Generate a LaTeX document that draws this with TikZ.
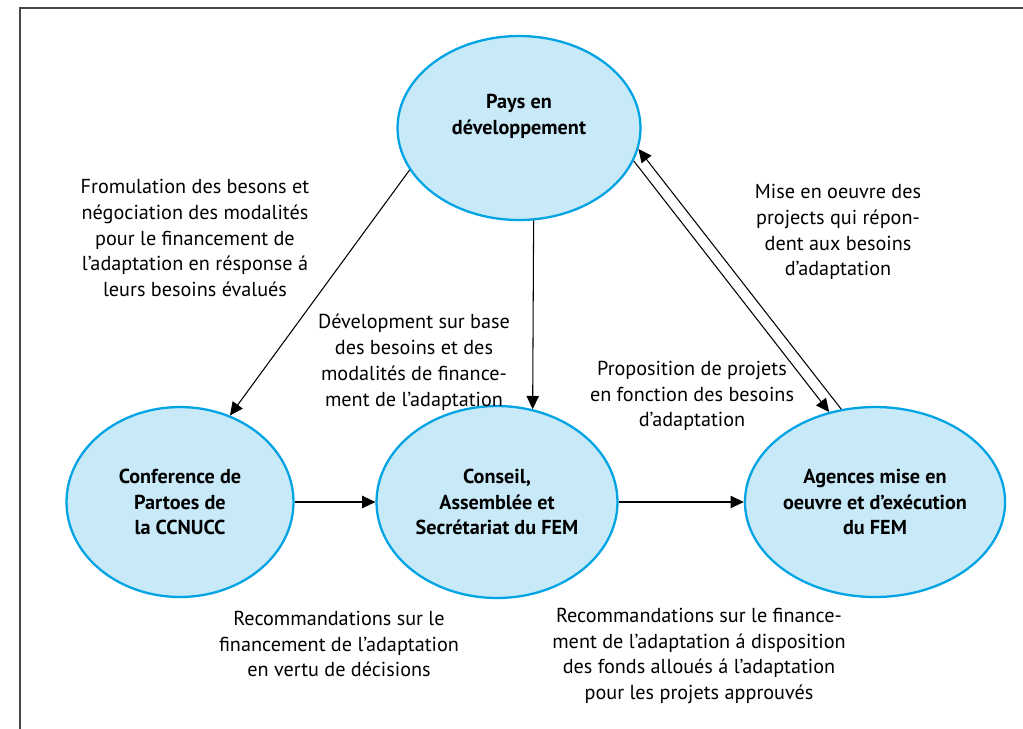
\documentclass[tikz,border=0pt]{standalone}
\usepackage{fontspec}
\setmainfont{PT Sans}
\usetikzlibrary{shapes.geometric,arrows.meta}
\definecolor{bubblefill}{RGB}{199,233,248}
\definecolor{bubbleline}{RGB}{0,163,228}
\definecolor{framegray}{RGB}{70,70,70}
\begin{document}
\begin{tikzpicture}
    [
    x=0.02cm,y=-0.02cm,
    bubble/.style={ellipse,draw=bubbleline,fill=bubblefill,line width=1.3pt,inner sep=0pt},
    bubbletext/.style={align=center,inner sep=0pt,font=\bfseries\fontsize{11.5}{14.7}\selectfont},
    note/.style={align=center,inner sep=0pt,font=\fontsize{11.5}{14.7}\selectfont},
    link/.style={line width=0.6pt,-{Triangle[length=7.5pt,width=7pt]}}
    ]
    \useasboundingbox (0,0) rectangle (1023,728);
    \clip (0,0) rectangle (1023,728);
    \draw [framegray,line width=1.1pt] (20,8) rectangle (1060,760);
    % the four bodies
    \node (pays) at (519,128) [bubble,minimum width=4.86cm,minimum height=3.68cm,
      label={[bubbletext,yshift=0.24cm]center:Pays en\\développement}] {};
    \node (cop) at (180,502) [bubble,bubbletext,minimum width=4.54cm,minimum height=3.8cm]
      {Conference de\\Partoes de\\la CCNUCC};
    \node (fem) at (497,502) [bubble,bubbletext,minimum width=4.82cm,minimum height=3.84cm]
      {Conseil,\\Assemblée et\\Secrétariat du FEM};
    \node (agences) at (875,502) [bubble,bubbletext,minimum width=4.86cm,minimum height=3.8cm]
      {Agences mise en\\oeuvre et d’exécution\\du FEM};
    % flows
    \draw [link] (pays.201) to (cop.60);
    \draw [link] (pays.-81) to (fem.69);
    \draw [link] (cop) to (fem);
    \draw [link] (fem) to (agences);
    \draw [link] (pays.-16) to (agences.117);
    \draw [link] (agences.110) to (pays.-10);
    % labels
    \node (besoins) at (195,238) [note]
      {Fromulation des besons et\\négociation des modalités\\pour le financement de\\l’adaptation en résponse á\\leurs besoins évalués};
    \node (modalites) at (414,362) [note]
      {Dévelopment sur base\\des besoins et des\\modalités de finance-\\ment de l’adaptation};
    \node (miseenoeuvre) at (838,232) [note]
      {Mise en oeuvre des\\projects qui répon-\\dent aux besoins\\d’adaptation};
    \node (proposition) at (692,396) [note]
      {Proposition de projets\\en fonction des besoins\\d’adaptation};
    \node (recodecisions) at (339,644) [note]
      {Recommandations sur le\\financement de l’adaptation\\en vertu de décisions};
    \node (recofonds) at (699,656) [note]
      {Recommandations sur le finance-\\ment de l’adaptation á disposition\\des fonds alloués á l’adaptation\\pour les projets approuvés};
\end{tikzpicture}
\end{document}
